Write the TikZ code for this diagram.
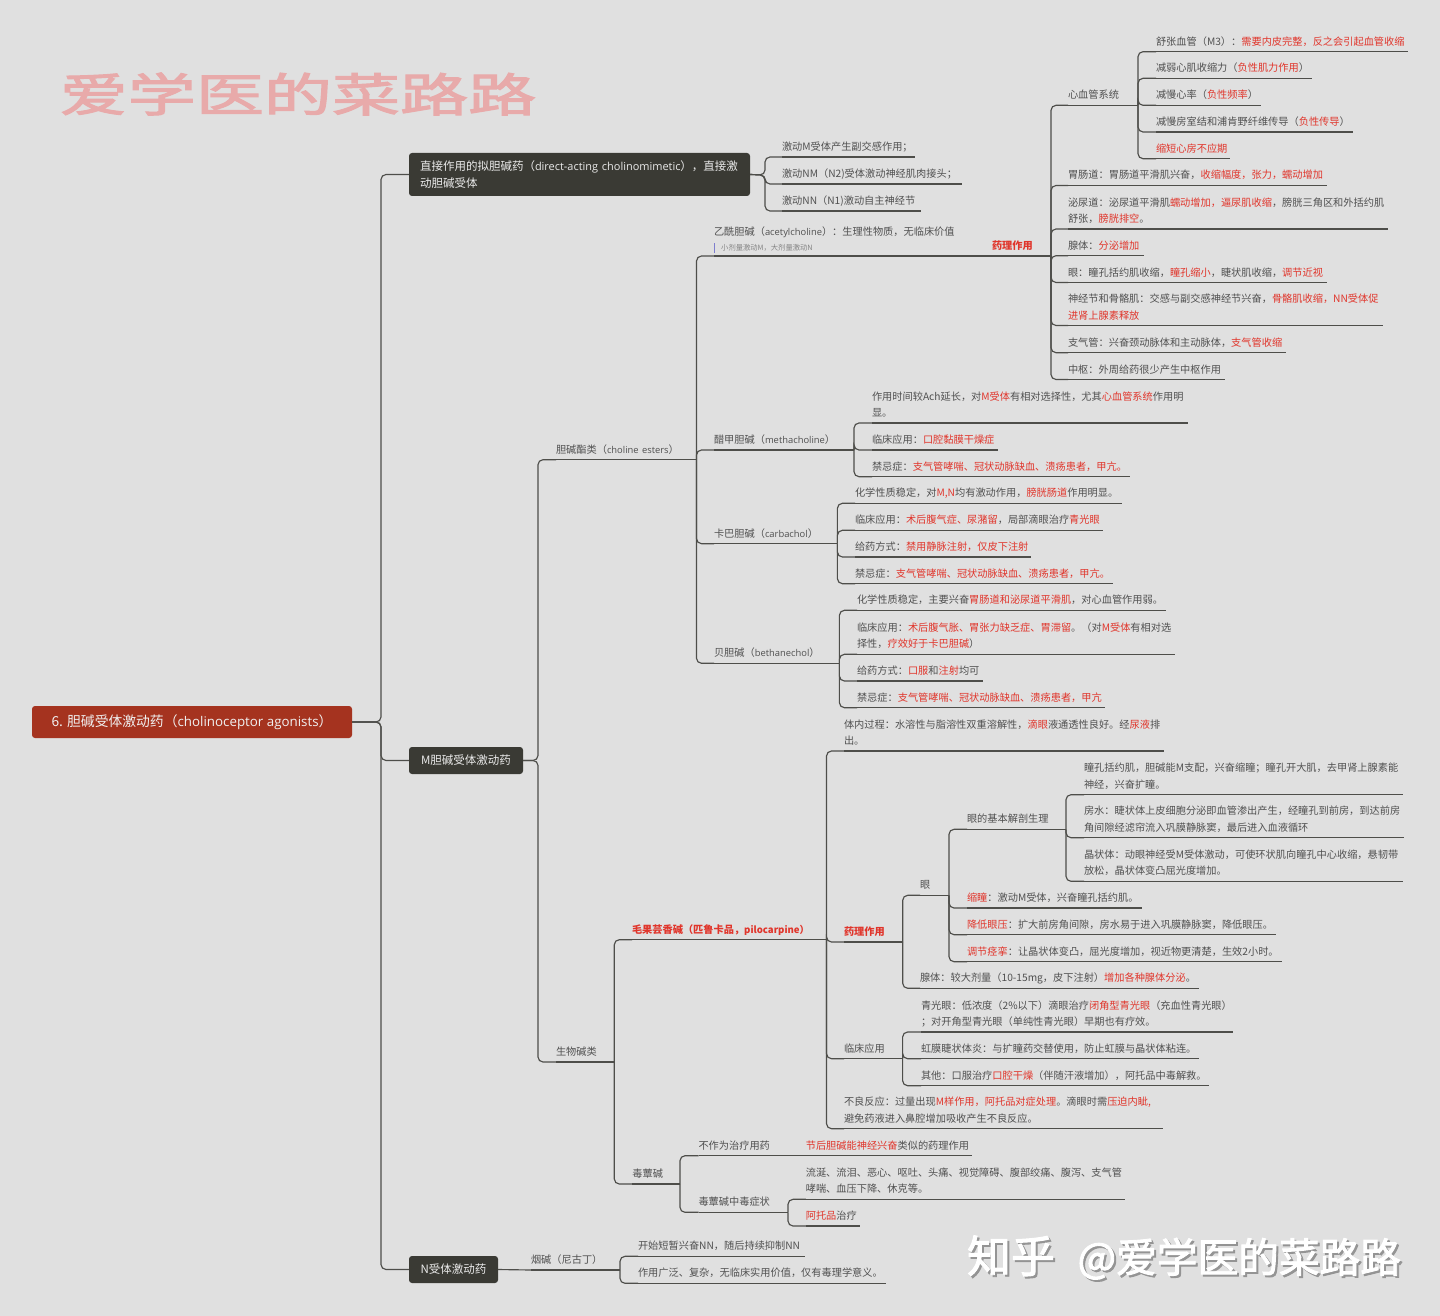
\documentclass[tikz,border=0pt]{standalone}
\usepackage{fontspec}
\usepackage{graphicx}
\setmainfont{Noto Sans CJK SC}
\newfontfamily\lafont[Scale=0.92]{Open Sans}
\newfontfamily\heavyf[FakeBold=2.2]{Noto Sans CJK SC}
\definecolor{bg}{HTML}{E0E0E0}
\definecolor{ln}{HTML}{4E4E4A}
\definecolor{tx}{HTML}{505050}
\definecolor{rd}{HTML}{E0352B}
\definecolor{bx}{HTML}{3A3A34}
\definecolor{rt}{HTML}{A5331F}
\definecolor{pk}{HTML}{E8AAAA}
\newcommand\Rd[1]{\textcolor{rd}{#1}}
\newcommand\La[1]{{\lafont #1}}
\newcommand\bodyf{\fontsize{10.2}{16.3}\selectfont}
\tikzset{
  conn/.style={draw=ln,line width=1.15pt,rounded corners=5pt},
  under/.style={draw=ln,line width=1.15pt},
  topic/.style={inner sep=0pt,outer sep=0pt,anchor=south west,align=left,text=tx,font=\bodyf},
  darkbox/.style={fill=bx,rounded corners=3pt,inner xsep=11pt,inner ysep=0pt,outer sep=0pt,anchor=west,text=white!92!black,align=left,font=\fontsize{11.5}{16.6}\selectfont},
}
% name, x of text, y of underline, x of underline end, text
\newcommand\Tp[5]{%
  \pgfmathsetmacro\wdT{#4-#2}%
  \node[topic,text width=\wdT pt] (#1) at (#2,#3) {#5\rule[-6.5pt]{0pt}{6.5pt}};
  \draw[under] (#1.south west) -- (#1.south east);
}
\newcommand\Cn[2]{%
  \foreach \kid in {#2} {\draw[conn] (#1.south east) |- (\kid.south west);}
}
\newcommand\Zhihu{\hbox to 434pt{\heavyf\fontsize{44}{44}\selectfont 知乎\hfill\fontsize{40.7}{44}\selectfont @爱学医的菜路路}}
\begin{document}
\begin{tikzpicture}[x=1pt,y=-1pt]
\useasboundingbox (0,0) rectangle (1440,1316);
\fill[bg] (0,0) rectangle (1440,1316);

% watermarks
\node[text=pk,inner sep=0pt] (title) at (298,94) {\scalebox{1.48}[1]{\fontsize{46}{46}\selectfont\heavyf 爱学医的菜路路}};
\node[text=black!42,inner sep=0pt] (zhs) at (1186,1259.5) {\Zhihu};
\node[text=white,inner sep=0pt] (zh) at (1184,1257.5) {\Zhihu};

% root and first level
\node[fill=rt,rounded corners=3pt,text=white!94!black,minimum width=320pt,minimum height=32pt,inner sep=0pt,outer sep=0pt,anchor=west,font=\fontsize{13.8}{16}\selectfont] (root) at (32,722) {6. 胆碱受体激动药（{\fontsize{14.5}{16}\selectfont\La{cholinoceptor agonists}}）};
\node[darkbox,text width=319pt,minimum height=43pt] (top) at (409,174.5) {\mbox{直接作用的拟胆碱药（{\fontsize{11.9}{16.6}\selectfont\La{direct-acting cholinomimetic}}），直接激}\\动胆碱受体};
\node[darkbox,minimum width=114pt,minimum height=27pt] (mbox) at (409,760.5) {M胆碱受体激动药};
\node[darkbox,minimum width=89pt,minimum height=27pt] (nbox) at (409,1269.5) {N受体激动药};
\coordinate (mainbus) at (381,722);
\draw[conn] (root.east) -- (mainbus) |- (top.west);
\draw[conn] (root.east) -- (mainbus) |- (mbox.west);
\draw[conn] (root.east) -- (mainbus) |- (nbox.west);

% direct acting
\Tp{t1}{782}{157}{915}{激动M受体产生副交感作用；}
\Tp{t2}{782}{184}{962}{激动NM（N2)受体激动神经肌肉接头；}
\Tp{t3}{782}{211}{921}{激动NN（N1)激动自主神经节}
\coordinate (tbus) at (765,175);
\foreach \kid in {t1,t2,t3} {\draw[conn] (top.east) -- (tbus) |- (\kid.south west);}

% M box
\Tp{esters}{556}{459.7}{696.5}{胆碱酯类（\La{choline esters}）}
\Tp{alk}{556}{1062}{614.3}{生物碱类}
\coordinate (mbus) at (538,760.5);
\foreach \kid in {esters,alk} {\draw[conn] (mbox.east) -- (mbus) |- (\kid.south west);}

% choline esters
\Tp{ach}{714}{256}{976}{乙酰胆碱（\La{acetylcholine}）：生理性物质，无临床价值\\[-2.5pt]\mbox{}}
\node[inner sep=0pt,anchor=west,text=black!48,font=\fontsize{7.3}{9}\selectfont] (achnote) at (721,247.5) {小剂量激动M，大剂量激动N};
\coordinate (bara) at (714.5,243);
\coordinate (barb) at (714.5,253);
\draw[draw=blue!45!gray!70,line width=1pt] (bara) -- (barb);
\Tp{meth}{714}{450}{854}{醋甲胆碱（\La{methacholine}）}
\Tp{carb}{714}{543.7}{837.4}{卡巴胆碱（\La{carbachol}）}
\Tp{beth}{714}{663.3}{839.4}{贝胆碱（\La{bethanechol}）}
\Cn{esters}{ach,meth,carb,beth}

% pharmacology of ACh
\node[topic,text width=59pt,font=\bodyf\bfseries,text=rd] (ypharm) at (992,256) {药理作用\rule[-6.5pt]{0pt}{6.5pt}};
\draw[under] (ach.south east) -- (ypharm.south east);
\Tp{cv}{1068}{105.3}{1138}{心血管系统}
\Tp{gi}{1068}{185.5}{1327}{胃肠道：胃肠道平滑肌兴奋，\Rd{收缩幅度，张力，蠕动增加}}
\Tp{ur}{1068}{229}{1388}{泌尿道：泌尿道平滑肌\Rd{蠕动增加，逼尿肌收缩}，膀胱三角区和外括约肌\\舒张，\Rd{膀胱排空}。}
\Tp{gl}{1068}{255.7}{1144}{腺体：\Rd{分泌增加}}
\Tp{ey}{1068}{282.5}{1327}{眼：瞳孔括约肌收缩，\Rd{瞳孔缩小}，睫状肌收缩，\Rd{调节近视}}
\Tp{ga}{1068}{325.5}{1383}{神经节和骨骼肌：交感与副交感神经节兴奋，\Rd{骨骼肌收缩，NN受体促}\\\Rd{进肾上腺素释放}}
\Tp{br}{1068}{352.7}{1286}{支气管：兴奋颈动脉体和主动脉体，\Rd{支气管收缩}}
\Tp{cn}{1068}{379.5}{1225}{中枢：外周给药很少产生中枢作用}
\Cn{ypharm}{cv,gi,ur,gl,ey,ga,br,cn}

\Tp{c1}{1156}{51.7}{1408}{舒张血管（M3）：\Rd{需要内皮完整，反之会引起血管收缩}}
\Tp{c2}{1156}{78.3}{1312}{减弱心肌收缩力（\Rd{负性肌力作用}）}
\Tp{c3}{1156}{105.3}{1261}{减慢心率（\Rd{负性频率}）}
\Tp{c4}{1156}{132}{1353}{减慢房室结和浦肯野纤维传导（\Rd{负性传导}）}
\Tp{c5}{1156}{158.7}{1230}{\Rd{缩短心房不应期}}
\Cn{cv}{c1,c2,c3,c4,c5}

% methacholine
\Tp{m1}{872}{423}{1188}{作用时间较Ach延长，对\Rd{M受体}有相对选择性，尤其\Rd{心血管系统}作用明\\显。}
\Tp{m2}{872}{450}{997.5}{临床应用：\Rd{口腔黏膜干燥症}}
\Tp{m3}{872}{476.7}{1130.4}{禁忌症：\Rd{支气管哮喘、冠状动脉缺血、溃疡患者，甲亢。}}
\Cn{meth}{m1,m2,m3}

% carbachol
\Tp{k1}{855}{503.3}{1121.8}{化学性质稳定，对\Rd{M,N}均有激动作用，\Rd{膀胱肠道}作用明显。}
\Tp{k2}{855}{530.3}{1102.9}{临床应用：\Rd{术后腹气症、尿潴留}，局部滴眼治疗\Rd{青光眼}}
\Tp{k3}{855}{557}{1031}{给药方式：\Rd{禁用静脉注射，仅皮下注射}}
\Tp{k4}{855}{583.7}{1112.9}{禁忌症：\Rd{支气管哮喘、冠状动脉缺血、溃疡患者，甲亢。}}
\Cn{carb}{k1,k2,k3,k4}

% bethanechol
\Tp{b1}{857}{610.3}{1166}{化学性质稳定，主要兴奋\Rd{胃肠道和泌尿道平滑肌}，对心血管作用弱。}
\Tp{b2}{857}{654.3}{1175}{临床应用：\Rd{术后腹气胀、胃张力缺乏症、胃滞留}。（对\Rd{M受体}有相对选\\择性，\Rd{疗效好于卡巴胆碱}）}
\Tp{b3}{857}{681}{982.7}{给药方式：\Rd{口服}和\Rd{注射}均可}
\Tp{b4}{857}{707.7}{1105}{禁忌症：\Rd{支气管哮喘、冠状动脉缺血、溃疡患者，甲亢}}
\Cn{beth}{b1,b2,b3,b4}

% alkaloids
\node[topic,text width=194.5pt,font=\bodyf\bfseries,text=rd] (pilo) at (632,939.7) {毛果芸香碱（匹鲁卡品，\fontsize{9.6}{16.3}\selectfont pilocarpine）\rule[-6.5pt]{0pt}{6.5pt}};
\draw[under] (pilo.south west) -- (pilo.south east);
\Tp{musc}{632.4}{1184}{680}{毒蕈碱}
\Cn{alk}{pilo,musc}

\Tp{p1}{844}{751}{1163.7}{体内过程：水溶性与脂溶性双重溶解性，\Rd{滴眼}液通透性良好。经\Rd{尿液}排\\出。}
\node[topic,text width=58.7pt,font=\bodyf\bfseries,text=rd] (p2) at (844,942) {药理作用\rule[-6.5pt]{0pt}{6.5pt}};
\draw[under] (p2.south west) -- (p2.south east);
\Tp{p3}{844}{1058.7}{902.6}{临床应用}
\Tp{p4}{844}{1128.7}{1162.7}{不良反应：过量出现\Rd{M样作用，阿托品对症处理}。滴眼时需\Rd{压迫内眦,}\\避免药液进入鼻腔增加吸收产生不良反应。}
\Cn{pilo}{p1,p2,p3,p4}

\Tp{eye}{920}{895.3}{949}{眼}
\Tp{gland}{920}{988.3}{1199}{腺体：较大剂量（10-15mg，皮下注射）\Rd{增加各种腺体分泌}。}
\Cn{p2}{eye,gland}

\Tp{ea}{967}{829.3}{1066}{眼的基本解剖生理}
\Tp{e2}{967}{908}{1142}{\Rd{缩瞳}：激动M受体，兴奋瞳孔括约肌。}
\Tp{e3}{967}{934.7}{1276}{\Rd{降低眼压}：扩大前房角间隙，房水易于进入巩膜静脉窦，降低眼压。}
\Tp{e4}{967}{961.7}{1282}{\Rd{调节痉挛}：让晶状体变凸，屈光度增加，视近物更清楚，生效2小时。}
\Cn{eye}{ea,e2,e3,e4}

\Tp{a1}{1084}{794.7}{1403}{瞳孔括约肌，胆碱能M支配，兴奋缩瞳；瞳孔开大肌，去甲肾上腺素能\\神经，兴奋扩瞳。}
\Tp{a2}{1084}{837.7}{1403.6}{房水：睫状体上皮细胞分泌即血管渗出产生，经瞳孔到前房，到达前房\\角间隙经滤帘流入巩膜静脉窦，最后进入血液循环}
\Tp{a3}{1084}{881.3}{1403}{晶状体：动眼神经受M受体激动，可使环状肌向瞳孔中心收缩，悬韧带\\放松，晶状体变凸屈光度增加。}
\Cn{ea}{a1,a2,a3}

\Tp{u1}{921}{1032}{1233.4}{青光眼：低浓度（2\%以下）滴眼治疗\Rd{闭角型青光眼}（充血性青光眼）\\；对开角型青光眼（单纯性青光眼）早期也有疗效。}
\Tp{u2}{921}{1058.7}{1199.3}{虹膜睫状体炎：与扩瞳药交替使用，防止虹膜与晶状体粘连。}
\Tp{u3}{921}{1085.7}{1209.4}{其他：口服治疗\Rd{口腔干燥}（伴随汗液增加），阿托品中毒解救。}
\Cn{p3}{u1,u2,u3}

% muscarine
\Tp{n1}{698.5}{1155.7}{788}{不作为治疗用药}
\Tp{n2}{698.5}{1212.3}{788}{毒蕈碱中毒症状}
\Cn{musc}{n1,n2}
\Tp{n3}{805.8}{1155.7}{972}{\Rd{节后胆碱能神经兴奋}类似的药理作用}
\draw[under] (n1.south east) -- (n3.south west);
\Tp{n4}{805.8}{1199.3}{1125.2}{流涎、流泪、恶心、呕吐、头痛、视觉障碍、腹部绞痛、腹泻、支气管\\哮喘、血压下降、休克等。}
\Tp{n5}{805.8}{1226}{859.7}{\Rd{阿托品}治疗}
\Cn{n2}{n4,n5}

% nicotine
\Tp{nic}{531}{1270}{620}{烟碱（尼古丁）}
\draw[under] (nbox.east) -- (nic.south west);
\Tp{y1}{638}{1256.3}{804.5}{开始短暂兴奋NN，随后持续抑制NN}
\Tp{y2}{638}{1283.3}{886}{作用广泛、复杂，无临床实用价值，仅有毒理学意义。}
\Cn{nic}{y1,y2}
\end{tikzpicture}
\end{document}
